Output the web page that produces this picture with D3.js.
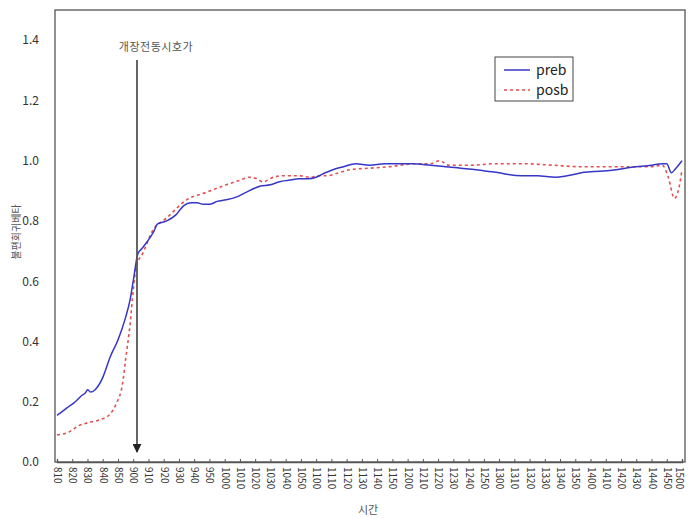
<!DOCTYPE html>
<html><head><meta charset="utf-8">
<script src="https://cdn.jsdelivr.net/npm/d3@7"></script>
<style>body{margin:0;background:#fff}svg{display:block}text{font-family:"Noto Sans CJK KR","DejaVu Sans",sans-serif}</style>
</head><body><svg id="c" width="689" height="518"></svg>
<script>
// minutes after 08:10
const tickLabels = ["810","820","830","840","850","900","910","920","930","940","950","1000","1010","1020","1030","1040","1050","1100","1110","1120","1130","1140","1150","1200","1210","1220","1230","1240","1250","1300","1310","1320","1330","1340","1350","1400","1410","1420","1430","1440","1450","1500"];
const yTicks = [0.0,0.2,0.4,0.6,0.8,1.0,1.2,1.4];
const prebMin = [0,4,8,12,16,19,20,22,25,30,35,40,45,48,50,53,56,59,63,66,72,78,83,88,92,96,100,105,111,118,124,133,140,146,152,159,165,170,176,181,188,196,205,215,225,233,245,255,265,275,282,290,295,305,315,327,333,338,344,350,364,377,390,397,400,403,406,410];
const prebVal = [0.155,0.17,0.185,0.2,0.22,0.232,0.24,0.232,0.24,0.28,0.35,0.405,0.48,0.54,0.60,0.69,0.71,0.73,0.76,0.79,0.80,0.82,0.85,0.86,0.86,0.855,0.855,0.865,0.87,0.88,0.895,0.915,0.92,0.93,0.935,0.94,0.94,0.945,0.96,0.97,0.98,0.99,0.985,0.99,0.99,0.99,0.985,0.98,0.975,0.97,0.965,0.96,0.955,0.95,0.95,0.945,0.948,0.953,0.96,0.963,0.968,0.978,0.985,0.99,0.99,0.96,0.975,1.0];
const posbMin = [0,8,14,20,28,35,39,43,45,48,50,52,56,63,72,85,98,111,120,126,131,135,142,148,159,166,172,177,185,192,205,218,236,245,251,257,272,288,305,325,343,360,375,390,397,401,405,408,410];
const posbVal = [0.09,0.10,0.12,0.13,0.14,0.16,0.195,0.26,0.34,0.46,0.57,0.65,0.69,0.77,0.81,0.87,0.895,0.92,0.935,0.945,0.94,0.93,0.945,0.95,0.95,0.945,0.95,0.95,0.96,0.97,0.975,0.98,0.99,0.99,1.0,0.985,0.985,0.99,0.99,0.985,0.98,0.98,0.98,0.98,0.985,0.945,0.875,0.91,0.97];

const svg = d3.select("#c");
const L=55, R=685, T=10, B=462;
const x = d3.scaleLinear().domain([0,410]).range([57,682]);
const y = d3.scaleLinear().domain([0,1.5]).range([B,T]);

// frame
svg.append("rect").attr("x",L).attr("y",T).attr("width",R-L).attr("height",B-T)
  .attr("fill","none").attr("stroke","#555").attr("stroke-width",1.3);

// x axis
const xa = d3.axisBottom(x).tickValues(d3.range(0,411,10)).tickSize(-3).tickFormat((d,i)=>tickLabels[i]);
const gx = svg.append("g").attr("transform",`translate(0,${B})`).call(xa);
gx.select(".domain").attr("stroke","#555").attr("stroke-width",1.3);
gx.selectAll(".tick line").attr("stroke","#555");
gx.selectAll(".tick text").attr("transform","rotate(90)").attr("x",5).attr("y",0)
  .attr("dy",(d,i,n)=> i===n.length-1 ? "0.7em" : "0.35em")
  .style("text-anchor","start").attr("font-size",10).attr("fill","#333").attr("font-family","'DejaVu Sans', sans-serif");

// y axis
const ya = d3.axisLeft(y).tickValues(yTicks).tickSize(0).tickFormat(d3.format(".1f"));
const gy = svg.append("g").attr("transform",`translate(${L},0)`).call(ya);
gy.select(".domain").remove();
gy.selectAll(".tick text").attr("x",-16).attr("font-size",12).attr("fill","#333").attr("font-family","'DejaVu Sans', sans-serif");

// lines
const pre = prebMin.map((m,i)=>[m,prebVal[i]]);
const pos = posbMin.map((m,i)=>[m,posbVal[i]]);
const line = d3.line().x(d=>x(d[0])).y(d=>y(d[1])).curve(d3.curveMonotoneX);
svg.append("path").datum(pos).attr("d",line).attr("fill","none").attr("stroke","#e05050")
  .attr("stroke-width",1.6).attr("stroke-dasharray","3,3");
svg.append("path").datum(pre).attr("d",line).attr("fill","none").attr("stroke","#3636c8").attr("stroke-width",1.5);

// annotation arrow
svg.append("defs").append("marker").attr("id","ah").attr("viewBox","0 0 10 10").attr("refX",9).attr("refY",5)
  .attr("markerWidth",5).attr("markerHeight",5).attr("orient","auto")
  .append("path").attr("d","M0,0L10,5L0,10z").attr("fill","#222");
svg.append("line").attr("x1",137).attr("x2",137).attr("y1",60).attr("y2",452)
  .attr("stroke","#555").attr("stroke-width",1.8).attr("marker-end","url(#ah)");
svg.append("text").attr("x",156).attr("y",51).attr("text-anchor","middle").attr("font-size",11)
  .attr("letter-spacing","0.5px").attr("fill","#555").text("개장전동시호가");

// legend
svg.append("rect").attr("x",495).attr("y",57).attr("width",78).attr("height",44).attr("fill","#fff").attr("stroke","#444").attr("stroke-width",1);
svg.append("line").attr("x1",504).attr("x2",530).attr("y1",70).attr("y2",70).attr("stroke","#3636c8").attr("stroke-width",1.5);
svg.append("line").attr("x1",504).attr("x2",530).attr("y1",90).attr("y2",90).attr("stroke","#e05050").attr("stroke-width",1.6).attr("stroke-dasharray","3,3");
svg.append("text").attr("x",536).attr("y",75).attr("font-size",14).attr("fill","#222").attr("font-family","'DejaVu Sans', sans-serif").text("preb");
svg.append("text").attr("x",536).attr("y",95).attr("font-size",14).attr("fill","#222").attr("font-family","'DejaVu Sans', sans-serif").text("posb");

// axis titles
svg.append("text").attr("x",368).attr("y",514).attr("text-anchor","middle").attr("font-size",11).attr("fill","#555").text("시간");
svg.append("text").attr("transform","translate(20,232) rotate(-90)").attr("text-anchor","middle").attr("font-size",10).attr("fill","#555").text("불편회귀베타");
</script></body></html>
